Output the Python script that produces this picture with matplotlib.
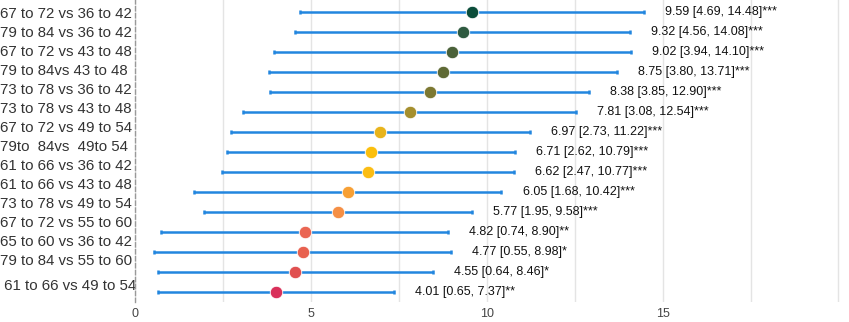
import numpy as np
import matplotlib.pyplot as plt

labels = ['67 to 72 vs 36 to 42', '79 to 84 vs 36 to 42', '67 to 72 vs 43 to 48',
          '79 to 84vs 43 to 48', '73 to 78 vs 36 to 42', '73 to 78 vs 43 to 48',
          '67 to 72 vs 49 to 54', '79to  84vs  49to 54', '61 to 66 vs 36 to 42',
          '61 to 66 vs 43 to 48', '73 to 78 vs 49 to 54', '67 to 72 vs 55 to 60',
          '65 to 60 vs 36 to 42', '79 to 84 vs 55 to 60', ' 61 to 66 vs 49 to 54']
est = [9.59, 9.32, 9.02, 8.75, 8.38, 7.81, 6.97, 6.71, 6.62, 6.05, 5.77, 4.82, 4.77, 4.55, 4.01]
lo = [4.69, 4.56, 3.94, 3.80, 3.85, 3.08, 2.73, 2.62, 2.47, 1.68, 1.95, 0.74, 0.55, 0.64, 0.65]
hi = [14.48, 14.08, 14.10, 13.71, 12.90, 12.54, 11.22, 10.79, 10.77, 10.42, 9.58, 8.90, 8.98, 8.46, 7.37]
stars = ['***'] * 11 + ['**', '*', '*', '**']

colors = ['#0b4d3a', '#2e5a40', '#4a6139', '#5f6a35', '#7c7832', '#a58f2e', '#e8b41c',
          '#fbbf0d', '#fbbd14', '#f7a035', '#f58f45', '#ea6653', '#e8614f', '#e05050', '#d9305a']

plt.rcParams['font.family'] = ['Liberation Sans', 'DejaVu Sans']

fig = plt.figure(figsize=(8.49, 3.22), dpi=100)
ax = fig.add_axes([0.159, 0.062, 0.841, 0.938])

y = np.arange(len(est))
for i in range(len(est)):
    ax.errorbar(est[i], y[i], xerr=[[est[i] - lo[i]], [hi[i] - est[i]]], fmt='none',
                ecolor='#2286df', elinewidth=1.8, capsize=1.5, capthick=1.8, zorder=2)
    ax.plot(est[i], y[i], 'o', color=colors[i], ms=9, mec='white', mew=0.6, zorder=3)
    ax.text(hi[i] + 0.6, y[i], '%.2f [%.2f, %.2f]%s' % (est[i], lo[i], hi[i], stars[i]),
            va='center', ha='left', fontsize=9, color='#111111')

ax.set_xlim(0, 20.3)
ax.set_ylim(14.5, -0.6)
ax.set_xticks([0, 5, 10, 15])
ax.set_xticks(np.arange(2.5, 20.3, 2.5), minor=True)
ax.grid(axis='x', which='both', color='#e4e4e4', lw=1)
ax.set_axisbelow(True)

# the category labels sit a little tighter than the rows in the original
label_pos = np.r_[np.arange(len(labels) - 1) * 0.95, 13.6]
ax.set_yticks(label_pos)
ax.set_yticklabels(labels, fontsize=10.8, color='#333333')
for t in ax.get_yticklabels():
    t.set_horizontalalignment('left')
ax.tick_params(axis='y', length=0, pad=97)
ax.tick_params(axis='x', which='both', length=0, labelsize=9, labelcolor='#444444', pad=4)
for s in ['top', 'right', 'bottom']:
    ax.spines[s].set_visible(False)
ax.spines['left'].set_linestyle((0, (3, 2)))
ax.spines['left'].set_color('#999999')
ax.spines['left'].set_linewidth(1)

fig.savefig('out.png', dpi=100)
